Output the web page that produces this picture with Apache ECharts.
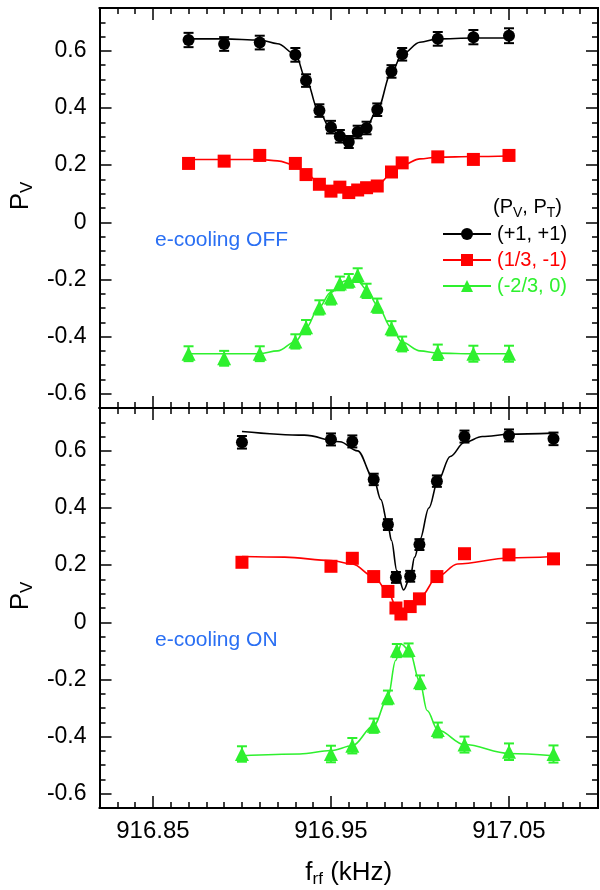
<!DOCTYPE html>
<html>
<head>
<meta charset="utf-8">
<script src="https://cdn.jsdelivr.net/npm/echarts@6/dist/echarts.min.js"></script>
<style>
  html, body { margin: 0; padding: 0; background: #fff; }
  #chart { width: 600px; height: 890px; }
</style>
</head>
<body>
<div id="chart"></div>
<script>
// ---- data ----
// upper panel: e-cooling OFF
const topFreq = [916.87, 916.89, 916.91, 916.93, 916.936, 916.9435, 916.95, 916.955, 916.96, 916.965, 916.97, 916.976, 916.984, 916.99, 917.01, 917.03, 917.05]
const topBlack = [0.638, 0.624, 0.629, 0.586, 0.496, 0.391, 0.333, 0.301, 0.281, 0.316, 0.330, 0.394, 0.528, 0.588, 0.642, 0.648, 0.653]
const topBlackErr = [0.025, 0.024, 0.024, 0.024, 0.022, 0.022, 0.022, 0.022, 0.021, 0.022, 0.022, 0.022, 0.022, 0.022, 0.024, 0.025, 0.026]
const topRed = [0.206, 0.214, 0.234, 0.206, 0.167, 0.133, 0.109, 0.123, 0.104, 0.113, 0.121, 0.127, 0.176, 0.208, 0.229, 0.220, 0.234]
const topRedErr = [0.015, 0.015, 0.015, 0.015, 0.015, 0.015, 0.015, 0.015, 0.015, 0.015, 0.015, 0.015, 0.015, 0.015, 0.015, 0.015, 0.015]
const topGreen = [-0.460, -0.476, -0.460, -0.417, -0.367, -0.298, -0.263, -0.214, -0.205, -0.185, -0.240, -0.292, -0.371, -0.426, -0.455, -0.460, -0.460]
const topGreenErr = [0.026, 0.026, 0.026, 0.025, 0.025, 0.025, 0.025, 0.024, 0.024, 0.024, 0.025, 0.025, 0.025, 0.026, 0.027, 0.028, 0.028]

// fitted curves, upper panel
const topFitFreq = [916.87, 916.89, 916.91, 916.92, 916.93, 916.936, 916.943, 916.95, 916.958, 916.965, 916.97, 916.976, 916.984, 916.99, 917.0, 917.01, 917.03, 917.05]
const topBlackFit = [0.642, 0.642, 0.638, 0.625, 0.588, 0.50, 0.39, 0.325, 0.288, 0.305, 0.335, 0.394, 0.525, 0.588, 0.630, 0.642, 0.645, 0.645]
const topRedFit = [0.220, 0.220, 0.220, 0.215, 0.200, 0.172, 0.140, 0.118, 0.108, 0.110, 0.118, 0.130, 0.170, 0.200, 0.222, 0.228, 0.230, 0.232]
const topGreenFit = [-0.460, -0.460, -0.460, -0.450, -0.418, -0.370, -0.300, -0.245, -0.205, -0.205, -0.235, -0.290, -0.370, -0.420, -0.450, -0.458, -0.460, -0.460]

// lower panel: e-cooling ON
const botFreq = [916.90, 916.95, 916.962, 916.974, 916.982, 916.9865, 916.9945, 916.9997, 917.0095, 917.025, 917.05, 917.075]
const botBlack = [0.630, 0.640, 0.633, 0.500, 0.342, 0.157, 0.161, 0.272, 0.494, 0.650, 0.654, 0.642]
const botBlackErr = [0.022, 0.021, 0.021, 0.020, 0.019, 0.019, 0.019, 0.019, 0.020, 0.021, 0.021, 0.022]
const botRedFreq = [916.90, 916.95, 916.962, 916.974, 916.982, 916.9865, 916.9893, 916.9945, 916.9997, 917.0095, 917.025, 917.05, 917.075]
const botRed = [0.210, 0.196, 0.224, 0.160, 0.108, 0.050, 0.029, 0.055, 0.082, 0.160, 0.240, 0.236, 0.222]
const botRedErr = [0.015, 0.015, 0.015, 0.015, 0.015, 0.015, 0.015, 0.015, 0.015, 0.015, 0.015, 0.015, 0.015]
const botGreenFreq = [916.90, 916.95, 916.962, 916.974, 916.982, 916.987, 916.9936, 917.0, 917.01, 917.025, 917.05, 917.075]
const botGreen = [-0.461, -0.461, -0.432, -0.362, -0.263, -0.099, -0.097, -0.210, -0.377, -0.428, -0.453, -0.461]
const botGreenErr = [0.027, 0.029, 0.027, 0.025, 0.024, 0.023, 0.023, 0.024, 0.026, 0.028, 0.029, 0.030]

// fitted curves, lower panel
const botBlackFitFreq = [916.90, 916.935, 916.955, 916.965, 916.974, 916.978, 916.982, 916.984, 916.987, 916.9908, 916.9945, 916.997, 917.0, 917.005, 917.01, 917.017, 917.025, 917.035, 917.05, 917.075]
const botBlackFit = [0.668, 0.655, 0.632, 0.600, 0.503, 0.430, 0.340, 0.286, 0.181, 0.113, 0.158, 0.228, 0.290, 0.400, 0.494, 0.580, 0.630, 0.650, 0.658, 0.662]
const botRedFitFreq = [916.90, 916.924, 916.95, 916.962, 916.974, 916.982, 916.987, 916.9895, 916.9945, 917.0, 917.01, 917.021, 917.05, 917.075]
const botRedFit = [0.230, 0.228, 0.216, 0.204, 0.160, 0.107, 0.050, 0.030, 0.063, 0.087, 0.160, 0.204, 0.225, 0.230]
const botGreenFitFreq = [916.90, 916.9325, 916.95, 916.962, 916.974, 916.982, 916.9863, 916.9895, 916.994, 917.0, 917.004, 917.01, 917.025, 917.05, 917.075]
const botGreenFit = [-0.467, -0.461, -0.449, -0.432, -0.362, -0.263, -0.134, -0.076, -0.099, -0.210, -0.309, -0.377, -0.428, -0.459, -0.467]

const xTicks = [916.85, 916.95, 917.05]
const yTicks = [-0.6, -0.4, -0.2, 0, 0.2, 0.4, 0.6]
const names = ['(+1, +1)', '(1/3, -1)', '(-2/3, 0)']

const BLACK = '#000000'
const RED = '#ff0000'
const GREEN = '#2ef02e'
const BLUE = '#2a6ff3'
const FONT = 'Liberation Sans, Arial, Helvetica, sans-serif'

const zip = (xs, ys, es) => xs.map((x, i) => es ? [x, ys[i], es[i]] : [x, ys[i]])

const chart = echarts.init(document.getElementById('chart'))

const tickLine = { color: '#000', width: 1.5 }
const axisLine = { onZero: false, lineStyle: { color: '#000', width: 2 } }

const xAxes = (grid, labels) => {
  const base = { gridIndex: grid, type: 'value', min: 916.82, max: 917.10, splitLine: { show: false }, axisLine }
  const major = {
    ...base,
    axisTick: { inside: true, length: 12, customValues: xTicks, lineStyle: tickLine },
    axisLabel: { show: false }
  }
  const minor = {
    ...base,
    interval: 0.01,
    axisTick: { inside: true, length: 6, lineStyle: tickLine },
    axisLabel: { show: false }
  }
  return [
    { ...minor, position: 'bottom' },
    {
      ...major,
      position: 'bottom',
      name: labels ? '{a|f}{s|rf}{a| (kHz)}' : '',
      nameLocation: 'middle',
      nameGap: 50,
      nameTextStyle: {
        rich: {
          a: { fontSize: 26, fontFamily: FONT, color: '#000' },
          s: { fontSize: 17, fontFamily: FONT, color: '#000', padding: [13, 0, 0, 0] }
        }
      },
      axisLabel: { show: labels, customValues: xTicks, margin: 11, fontSize: 24, color: '#000', fontFamily: FONT }
    },
    { ...minor, position: 'top' },
    { ...major, position: 'top' }
  ]
}

const yAxes = (grid) => {
  const base = { gridIndex: grid, type: 'value', min: -0.65, max: 0.75, splitLine: { show: false }, axisLine }
  const minor = { ...base, interval: 0.05, axisTick: { inside: true, length: 6, lineStyle: tickLine }, axisLabel: { show: false } }
  const major = { ...base, axisTick: { inside: true, length: 12, customValues: yTicks, lineStyle: tickLine }, axisLabel: { show: false } }
  return [
    { ...minor, position: 'left' },
    {
      ...major,
      position: 'left',
      name: '{p|P}{s|V}',
      nameLocation: 'middle',
      nameGap: 39,
      nameRotate: 90,
      nameTextStyle: {
        padding: [0, 0, 0, 24],
        rich: {
          p: { fontSize: 26, fontFamily: FONT, color: '#000' },
          s: { fontSize: 17, fontFamily: FONT, color: '#000', padding: [13, 0, 0, 0] }
        }
      },
      axisLabel: { show: true, customValues: yTicks, margin: 13, fontSize: 23, color: '#000', fontFamily: FONT }
    },
    { ...minor, position: 'right' },
    { ...major, position: 'right' }
  ]
}

const errorBar = (params, api) => {
  const x = api.value(0)
  const y = api.value(1)
  const e = api.value(2)
  const hi = api.coord([x, y + e])
  const lo = api.coord([x, y - e])
  const w = 5
  const style = { stroke: api.visual('color'), lineWidth: 2 }
  return {
    type: 'group',
    children: [
      { type: 'line', shape: { x1: hi[0], y1: hi[1], x2: lo[0], y2: lo[1] }, style },
      { type: 'line', shape: { x1: hi[0] - w, y1: hi[1], x2: hi[0] + w, y2: hi[1] }, style },
      { type: 'line', shape: { x1: lo[0] - w, y1: lo[1], x2: lo[0] + w, y2: lo[1] }, style }
    ]
  }
}

const fit = (name, color, symbol, xi, data) => ({
  name,
  type: 'line',
  xAxisIndex: xi,
  yAxisIndex: xi,
  data,
  smooth: 0.35,
  smoothMonotone: 'x',
  symbol,
  showSymbol: false,
  silent: true,
  itemStyle: { color },
  lineStyle: { color, width: 1.6 },
  z: 2
})
const bars = (color, xi, data) => ({
  type: 'custom',
  xAxisIndex: xi,
  yAxisIndex: xi,
  renderItem: errorBar,
  itemStyle: { color },
  encode: { x: 0, y: 1 },
  data,
  silent: true,
  z: 3
})
const points = (color, symbol, size, xi, data) => ({
  type: 'scatter',
  xAxisIndex: xi,
  yAxisIndex: xi,
  symbol,
  symbolSize: size,
  itemStyle: { color, opacity: 1 },
  data,
  silent: true,
  z: 4
})

chart.setOption({
  animation: false,
  textStyle: { fontFamily: FONT },
  grid: [
    { left: 98, top: 8, width: 500, height: 400 },
    { left: 98, top: 408, width: 500, height: 400 }
  ],
  xAxis: [...xAxes(0, false), ...xAxes(1, true)],
  yAxis: [...yAxes(0), ...yAxes(1)],
  legend: {
    data: names.map((n, i) => ({ name: n, textStyle: { color: [BLACK, RED, GREEN][i] } })),
    orient: 'vertical',
    left: 442,
    top: 224,
    padding: 0,
    itemWidth: 48,
    itemHeight: 15,
    itemGap: 6,
    selectedMode: false,
    lineStyle: { width: 2 },
    textStyle: { fontSize: 20, fontFamily: FONT, padding: [0, 0, 0, 1] }
  },
  graphic: [
    {
      type: 'text', left: 493, top: 197, silent: true,
      style: {
        text: '(P{s|V}, P{s|T})',
        fontSize: 20, fontFamily: FONT, fill: '#000',
        rich: { s: { fontSize: 14, fontFamily: FONT, fill: '#000', padding: [12, 0, 0, 0] } }
      }
    },
    { type: 'text', left: 155, top: 230, silent: true, style: { text: 'e-cooling OFF', fontSize: 21, fontFamily: FONT, fill: BLUE } },
    { type: 'text', left: 155, top: 630, silent: true, style: { text: 'e-cooling ON', fontSize: 21, fontFamily: FONT, fill: BLUE } }
  ],
  series: [
    fit(names[0], BLACK, 'circle', 0, zip(topFitFreq, topBlackFit)),
    fit(names[1], RED, 'rect', 0, zip(topFitFreq, topRedFit)),
    fit(names[2], GREEN, 'triangle', 0, zip(topFitFreq, topGreenFit)),
    bars(BLACK, 0, zip(topFreq, topBlack, topBlackErr)),
    bars(RED, 0, zip(topFreq, topRed, topRedErr)),
    bars(GREEN, 0, zip(topFreq, topGreen, topGreenErr)),
    points(BLACK, 'circle', 12, 0, zip(topFreq, topBlack)),
    points(RED, 'rect', 13, 0, zip(topFreq, topRed)),
    points(GREEN, 'triangle', 14, 0, zip(topFreq, topGreen)),

    fit('blackOn', BLACK, 'none', 4, zip(botBlackFitFreq, botBlackFit)),
    fit('redOn', RED, 'none', 4, zip(botRedFitFreq, botRedFit)),
    fit('greenOn', GREEN, 'none', 4, zip(botGreenFitFreq, botGreenFit)),
    bars(BLACK, 4, zip(botFreq, botBlack, botBlackErr)),
    bars(RED, 4, zip(botRedFreq, botRed, botRedErr)),
    bars(GREEN, 4, zip(botGreenFreq, botGreen, botGreenErr)),
    points(BLACK, 'circle', 12, 4, zip(botFreq, botBlack)),
    points(RED, 'rect', 13, 4, zip(botRedFreq, botRed)),
    points(GREEN, 'triangle', 14, 4, zip(botGreenFreq, botGreen))
  ]
})
</script>
</body>
</html>
